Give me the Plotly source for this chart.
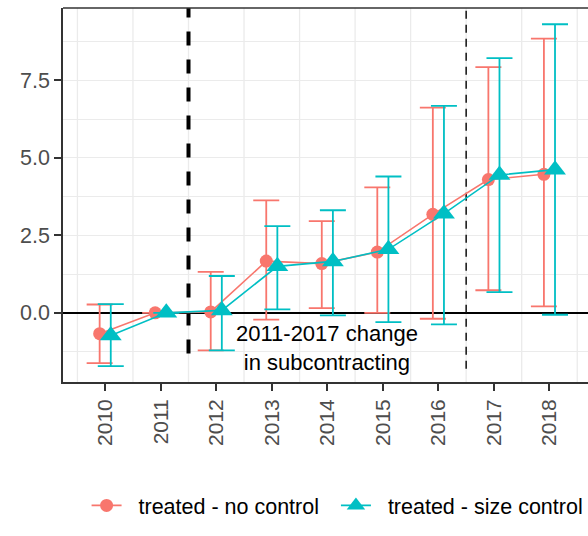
import plotly.graph_objects as go

# ---- data ----
years = [2010, 2011, 2012, 2013, 2014, 2015, 2016, 2017, 2018]
year_labels = [str(y) for y in years]

nc_name = "treated - no control"
nc_est = [-0.67, 0.0, 0.03, 1.67, 1.59, 1.96, 3.18, 4.30, 4.47]
nc_lo = [-1.62, None, -1.21, -0.22, 0.15, 0.00, -0.19, 0.73, 0.21]
nc_hi = [0.27, None, 1.32, 3.63, 2.96, 4.05, 6.62, 7.93, 8.85]

sc_name = "treated - size control"
sc_est = [-0.73, 0.0, 0.08, 1.50, 1.66, 2.05, 3.20, 4.45, 4.62]
sc_lo = [-1.72, None, -1.21, 0.11, -0.08, -0.30, -0.37, 0.67, -0.06]
sc_hi = [0.28, None, 1.19, 2.80, 3.31, 4.40, 6.68, 8.22, 9.31]

y_ticks = [0.0, 2.5, 5.0, 7.5]
event_line = 2011.5
event_line_bottom = -1.31
end_line = 2016.5
end_line_bottom = -1.8
note_text = "2011-2017 change<br>in subcontracting"
note_x = 2014.0
note_y = -1.12

RED = "#F8766D"
TEAL = "#00BFC4"
FONT = "Liberation Sans, Arial, sans-serif"
DODGE = 0.1
NB = "\u00a0"

x_range = [2009.24, 2018.694]
y_range = [-2.23, 9.835]


def err(est, lo, hi):
    plus = [None if h is None else h - e for e, h in zip(est, hi)]
    minus = [None if l is None else e - l for e, l in zip(est, lo)]
    return plus, minus


fig = go.Figure()

for label, est, lo, hi, col, sym, size, off in [
    (NB * 2 + nc_name + NB * 2, nc_est, nc_lo, nc_hi, RED, "circle", 13, -DODGE),
    (NB * 2 + sc_name, sc_est, sc_lo, sc_hi, TEAL, "triangle-up", 19, DODGE),
]:
    plus, minus = err(est, lo, hi)
    fig.add_trace(go.Scatter(
        x=[y + off for y in years], y=est, name=label,
        mode="lines+markers",
        line=dict(color=col, width=1.6),
        marker=dict(color=col, symbol=sym, size=size, line=dict(width=0)),
        error_y=dict(type="data", symmetric=False, array=plus, arrayminus=minus,
                     color=col, thickness=1.8, width=13),
    ))

# vertical grid lines at half years (major x grid is blank)
grid_x = [y - 0.5 for y in years] + [years[-1] + 0.5]
shapes = []
for gx in grid_x:
    shapes.append(dict(type="line", xref="x", yref="paper", x0=gx, x1=gx, y0=0, y1=1,
                       line=dict(color="#EBEBEB", width=1.3), layer="below"))

shapes.append(dict(type="line", xref="x", yref="y", x0=event_line, x1=event_line,
                   y0=event_line_bottom, y1=y_range[1],
                   line=dict(color="black", width=4, dash="14px,14px"), layer="between"))
shapes.append(dict(type="line", xref="x", yref="y", x0=end_line, x1=end_line,
                   y0=end_line_bottom, y1=y_range[1],
                   line=dict(color="#111111", width=1.5, dash="8px,6px"), layer="between"))
# top border
shapes.append(dict(type="line", xref="paper", yref="paper", x0=0, x1=1, y0=1, y1=1,
                   line=dict(color="#333333", width=1.6), layer="above"))

fig.update_layout(
    width=588, height=536,
    margin=dict(l=63, r=0, t=8, b=154, autoexpand=False),
    paper_bgcolor="white", plot_bgcolor="white",
    font=dict(family=FONT, size=21, color="#000000"),
    showlegend=True,
    legend=dict(orientation="h", x=0.523, xanchor="center", y=-0.33, yanchor="middle",
                font=dict(family=FONT, size=21.5, color="#000000"),
                itemwidth=30, tracegroupgap=0, bgcolor="rgba(0,0,0,0)"),
    shapes=shapes,
    annotations=[dict(x=note_x, y=note_y, xref="x", yref="y", text=note_text,
                      showarrow=False, font=dict(family=FONT, size=22, color="black"),
                      align="center", xanchor="center", yanchor="middle")],
)

fig.update_xaxes(
    range=x_range, tickmode="array", tickvals=years, ticktext=year_labels,
    tickangle=-90, showgrid=False, zeroline=False,
    showline=True, linecolor="#333333", linewidth=1.6,
    ticks="outside", ticklen=7, tickwidth=1.5, tickcolor="#333333",
    tickfont=dict(family=FONT, size=21, color="#4D4D4D"),
)
fig.update_yaxes(
    range=y_range, tickmode="array", tickvals=y_ticks,
    ticktext=[f"{v:.1f}" for v in y_ticks],
    showgrid=True, gridcolor="#EBEBEB", gridwidth=1.3,
    minor=dict(tick0=0, dtick=1.25, showgrid=True, gridcolor="#EBEBEB", gridwidth=1.3, ticks=""),
    zeroline=True, zerolinecolor="black", zerolinewidth=1.8,
    showline=True, linecolor="#333333", linewidth=1.6,
    ticks="outside", ticklen=7, tickwidth=1.5, tickcolor="#333333",
    tickfont=dict(family=FONT, size=21.5, color="#4D4D4D"),
)

fig.write_html("out.html")
